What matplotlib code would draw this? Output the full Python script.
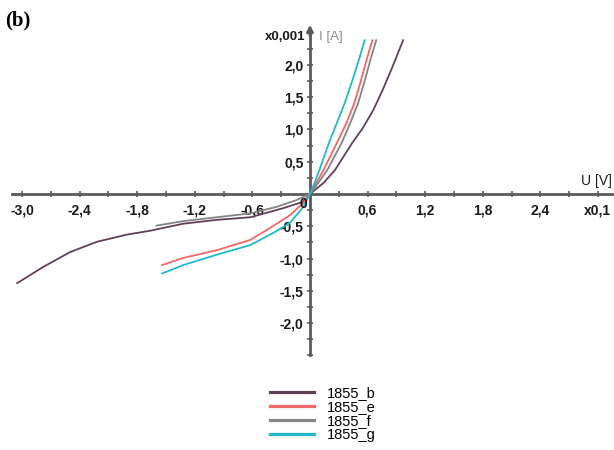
import matplotlib.pyplot as plt
import numpy as np

# I-U curves, U in units of 0.1 V, I in units of 0.001 A
b_u = [-3.05, -2.78, -2.50, -2.22, -1.91, -1.67, -1.32, -0.97, -0.62, -0.28, -0.07, 0.0,
       0.14, 0.26, 0.44, 0.55, 0.66, 0.76, 0.86, 0.97]
b_i = [-1.38, -1.13, -0.90, -0.74, -0.63, -0.57, -0.46, -0.40, -0.36, -0.22, -0.12, 0.0,
       0.17, 0.37, 0.79, 1.02, 1.30, 1.62, 1.97, 2.38]

e_u = [-1.54, -1.32, -0.97, -0.62, -0.42, -0.21, -0.07, 0.0,
       0.07, 0.14, 0.28, 0.38, 0.46, 0.53, 0.59, 0.65]
e_i = [-1.10, -0.99, -0.87, -0.71, -0.53, -0.33, -0.14, 0.0,
       0.18, 0.37, 0.79, 1.10, 1.40, 1.75, 2.08, 2.38]

f_u = [-1.60, -1.32, -0.97, -0.62, -0.35, -0.15, 0.0,
       0.09, 0.18, 0.33, 0.42, 0.50, 0.57, 0.63, 0.69]
f_i = [-0.49, -0.42, -0.36, -0.30, -0.20, -0.10, 0.0,
       0.18, 0.37, 0.79, 1.10, 1.40, 1.75, 2.08, 2.38]

g_u = [-1.54, -1.32, -0.97, -0.62, -0.38, -0.21, -0.07, 0.0,
       0.05, 0.10, 0.19, 0.28, 0.36, 0.44, 0.51, 0.57]
g_i = [-1.23, -1.10, -0.94, -0.79, -0.60, -0.45, -0.20, 0.0,
       0.18, 0.38, 0.76, 1.10, 1.40, 1.75, 2.08, 2.38]

series = [("1855_b", b_u, b_i, "#62405a"),
          ("1855_e", e_u, e_i, "#f06868"),
          ("1855_f", f_u, f_i, "#858585"),
          ("1855_g", g_u, g_i, "#22b8cc")]

x_ticks = [-3.0, -2.4, -1.8, -1.2, -0.6, 0.6, 1.2, 1.8, 2.4, 3.0]
x_labels = ["-3,0", "-2,4", "-1,8", "-1,2", "-0,6", "0,6", "1,2", "1,8", "2,4", "x0,1"]
y_ticks = [-2.0, -1.5, -1.0, -0.5, 0.5, 1.0, 1.5, 2.0]
y_labels = ["-2,0", "-1,5", "-1,0", "-0,5", "0,5", "1,0", "1,5", "2,0"]

plt.rcParams['font.family'] = ['Liberation Sans', 'DejaVu Sans']

fig = plt.figure(figsize=(6.14, 4.5), dpi=100)
ax = fig.add_axes([0, 0, 1, 1])
ax.set_xlim(-3.229, 3.167)
ax.set_ylim(-3.963, 3.003)

axis_col = "#5a5a5a"
for name, u, i, col in series:
    ax.plot(u, i, color=col, lw=1.3, label=name, zorder=3,
            solid_joinstyle='round')

# axes through the origin
ax.spines['right'].set_visible(False)
ax.spines['top'].set_visible(False)
ax.spines['left'].set_position(('data', 0))
ax.spines['bottom'].set_position(('data', 0))
ax.spines['bottom'].set_bounds(-3.10, 3.16)
ax.spines['left'].set_bounds(-2.5, 2.5)
for s in ('left', 'bottom'):
    ax.spines[s].set_color(axis_col)
    ax.spines[s].set_linewidth(2.0)
ax.annotate("", xy=(0, 2.62), xytext=(0, 2.45),
            arrowprops=dict(arrowstyle="-|>", color=axis_col, lw=2.0,
                            mutation_scale=9, shrinkA=0, shrinkB=0))

ax.set_xticks(x_ticks, x_labels)
ax.set_yticks(y_ticks, y_labels)
ax.set_xticks(np.arange(-3.0, 3.01, 0.3), minor=True)
ax.set_yticks(np.arange(-2.5, 2.51, 0.25), minor=True)
ax.tick_params(which='both', direction='inout', color=axis_col, width=1.2)
ax.tick_params(which='major', length=5)
ax.tick_params(which='minor', length=4)
ax.tick_params(axis='x', pad=4, labelsize=10, labelcolor="#1a1a1a")
ax.tick_params(axis='y', pad=2, labelsize=10, labelcolor="#1a1a1a")
for t in ax.get_xticklabels() + ax.get_yticklabels():
    t.set_fontweight('bold')

ax.text(-0.03, -0.16, "0", ha='right', va='center', fontsize=10,
        fontweight='bold', color="#1a1a1a")
ax.text(-0.05, 2.43, "x0,001", ha='right', va='center', fontsize=9.5,
        fontweight='bold', color="#1a1a1a")
ax.text(0.09, 2.43, "I [A]", ha='left', va='center', fontsize=9.5, color="#8a8a8a")
ax.text(3.14, 0.2, "U [V]", ha='right', va='center', fontsize=10, color="#1a1a1a")

fig.text(0.008, 0.955, "(b)", fontsize=15, fontweight='bold',
         family='Liberation Serif', ha='left', va='center')

leg = ax.legend(loc='upper left', bbox_to_anchor=(0.44, 0.143), frameon=False,
                fontsize=10.5, handlelength=3.0, handletextpad=0.9, labelspacing=0.0,
                borderpad=0, borderaxespad=0)
for h in leg.get_lines():
    h.set_linewidth(2.3)

fig.savefig("out.png", dpi=100)
